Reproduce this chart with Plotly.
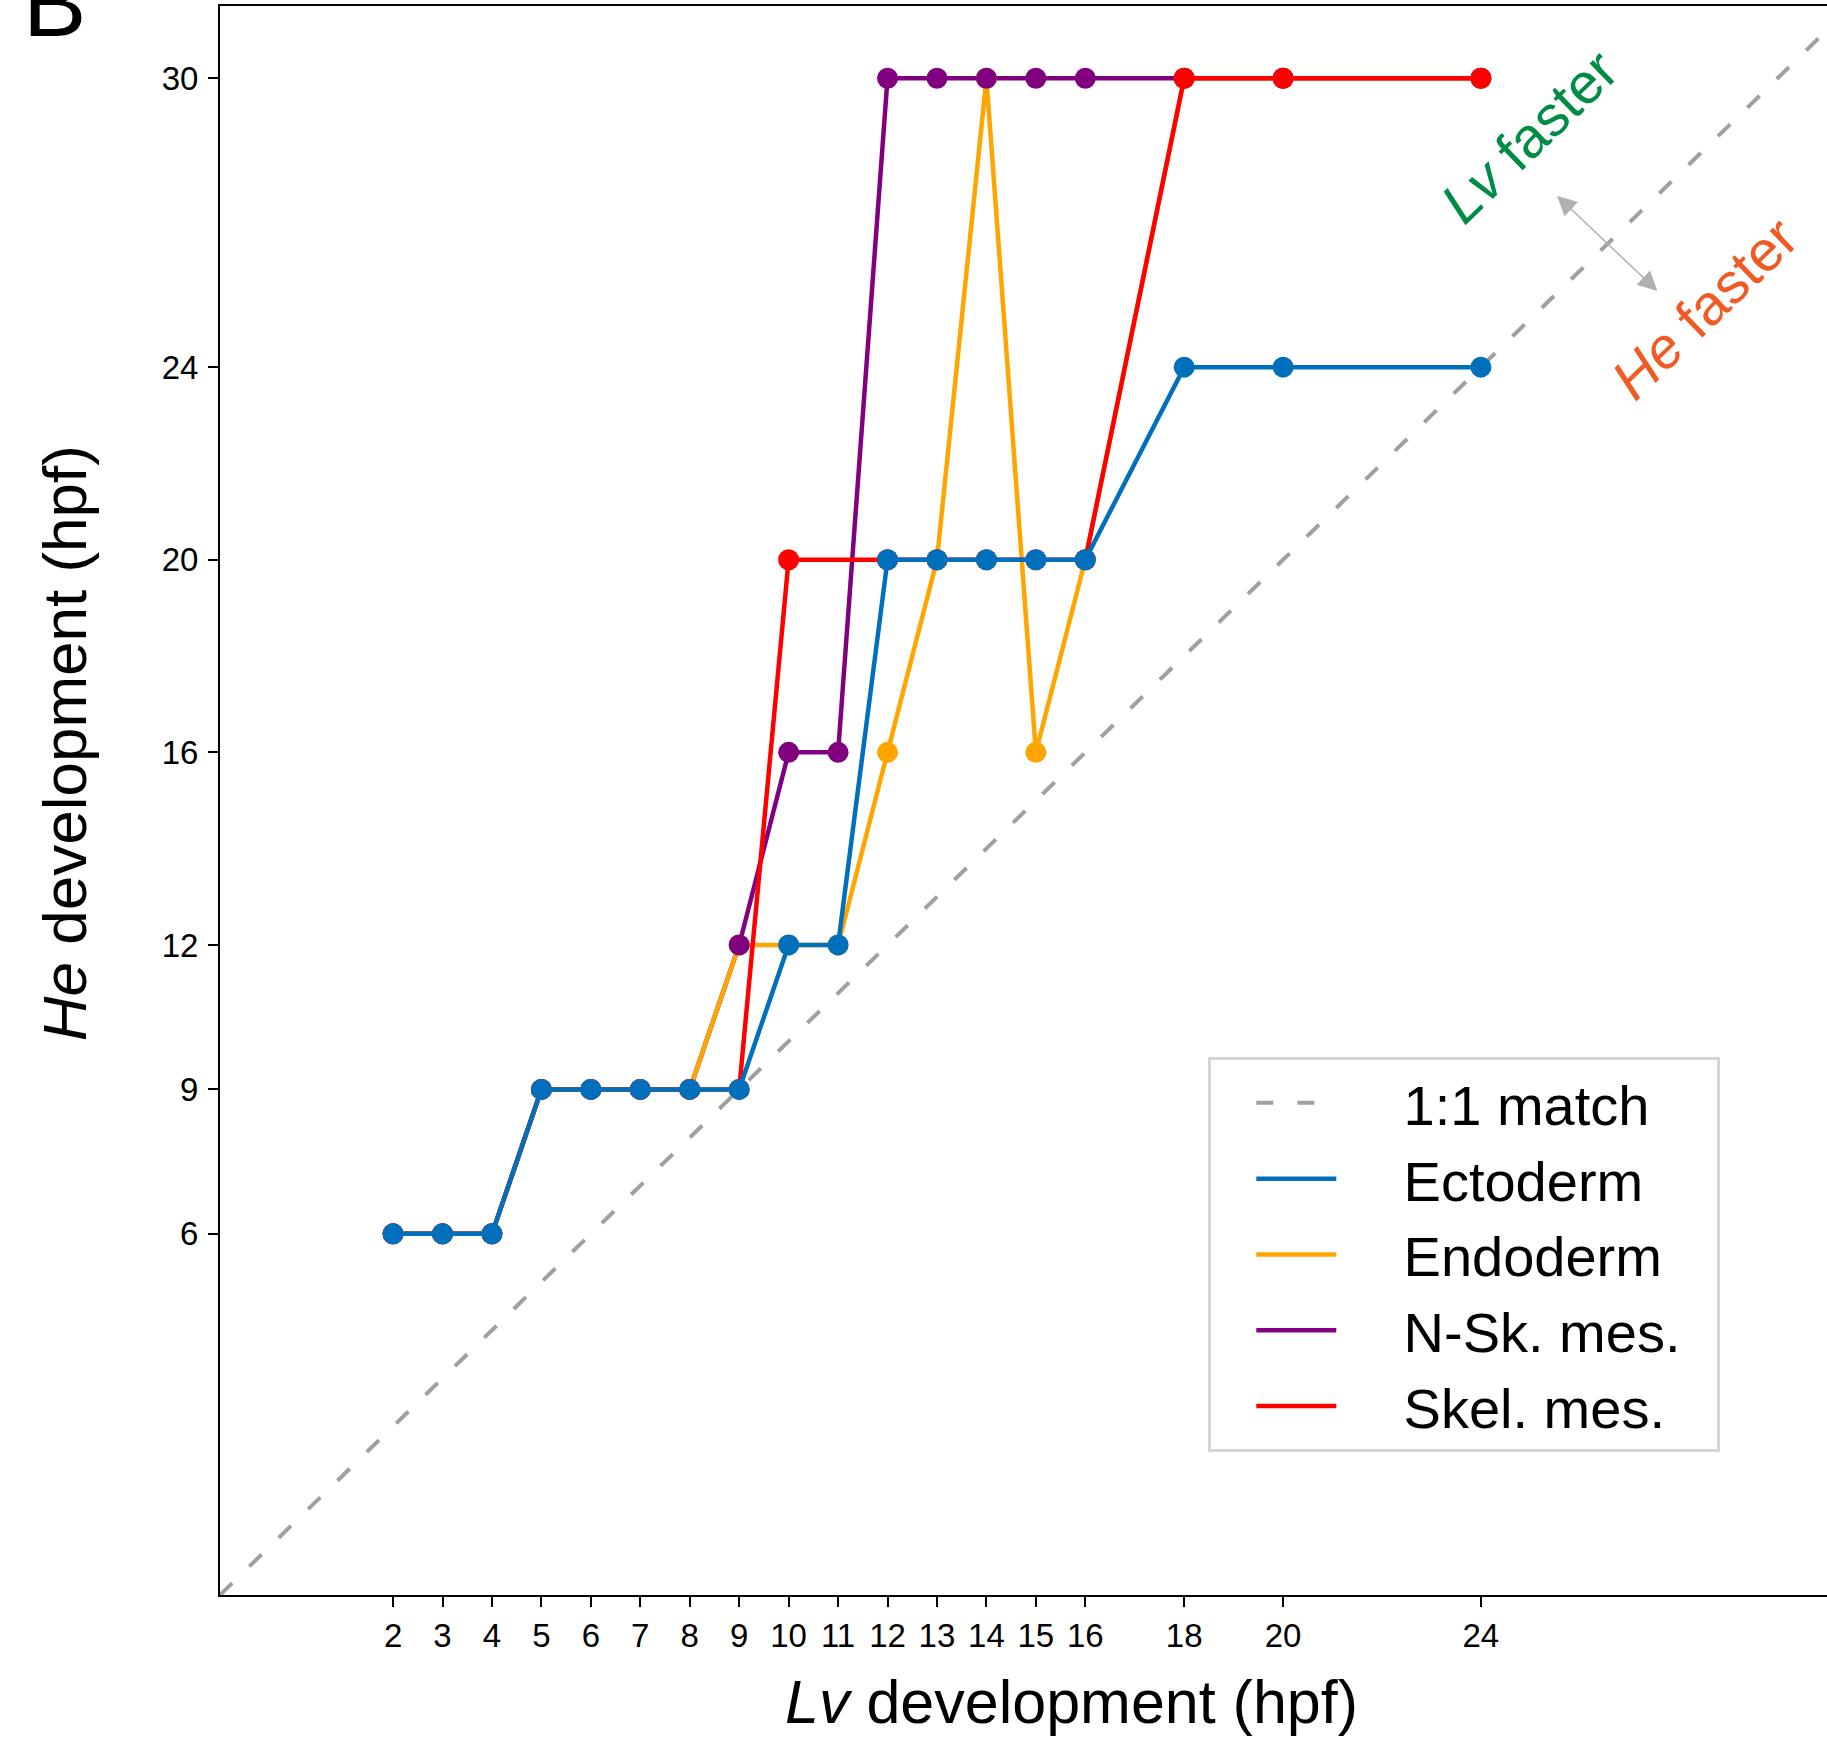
import plotly.graph_objects as go

# ---------------- data ----------------
lv_hpf = [2, 3, 4, 5, 6, 7, 8, 9, 10, 11, 12, 13, 14, 15, 16, 18, 20, 24]
ectoderm = [6, 6, 6, 9, 9, 9, 9, 9, 12, 12, 20, 20, 20, 20, 20, 24, 24, 24]
endoderm = [6, 6, 6, 9, 9, 9, 9, 12, 12, 12, 16, 20, 30, 16, 20, 30, 30, 30]
nsk_mes = [6, 6, 6, 9, 9, 9, 9, 12, 16, 16, 30, 30, 30, 30, 30, 30, 30, 30]
skel_x = [2, 3, 4, 5, 6, 7, 8, 9, 10, 12, 13, 14, 15, 16, 18, 20, 24]
skel_mes = [6, 6, 6, 9, 9, 9, 9, 9, 20, 20, 20, 20, 20, 20, 30, 30, 30]
match_line = [-1.5, 31.5]

x_ticks = lv_hpf
y_ticks = [6, 9, 12, 16, 20, 24, 30]

names = ["1:1 match", "Ectoderm", "Endoderm", "N-Sk. mes.", "Skel. mes."]
colors = {"Ectoderm": "#0070BD", "Endoderm": "#FFA500",
          "N-Sk. mes.": "#800080", "Skel. mes.": "#FF0000"}

FONT = "Liberation Sans, Arial, Helvetica, sans-serif"
LW = 4.5
MS = 21
PAD = "\u00a0" * 4
TAIL = "\u00a0" * 2

fig = go.Figure()

# 1:1 line
fig.add_trace(go.Scatter(x=match_line, y=match_line, mode="lines",
                         line=dict(color="#A0A0A0", width=4, dash="17px,24px"),
                         name=PAD + names[0] + TAIL, legendrank=1, hoverinfo="skip"))


def add_line(x, y, name, rank):
    fig.add_trace(go.Scatter(x=x, y=y, mode="lines", name=PAD + name + TAIL,
                             legendrank=rank, line=dict(color=colors[name], width=LW)))


def add_markers(x, y, name):
    fig.add_trace(go.Scatter(x=x, y=y, mode="markers", name=name, showlegend=False,
                             marker=dict(color=colors[name], size=MS, line=dict(width=0))))


add_line(lv_hpf, nsk_mes, "N-Sk. mes.", 4)
add_line(lv_hpf, endoderm, "Endoderm", 3)
add_markers(lv_hpf, endoderm, "Endoderm")
add_markers(lv_hpf, nsk_mes, "N-Sk. mes.")
add_line(skel_x, skel_mes, "Skel. mes.", 5)
add_markers(skel_x, skel_mes, "Skel. mes.")
add_line(lv_hpf, ectoderm, "Ectoderm", 2)
add_markers(lv_hpf, ectoderm, "Ectoderm")

axis_common = dict(showgrid=False, zeroline=False, showline=True, linecolor="black",
                   linewidth=2, ticks="outside", ticklen=10, tickwidth=2,
                   tickcolor="black", tickfont=dict(family=FONT, size=33, color="black"))

fig.update_xaxes(range=[-1.5, 31.0], tickmode="array", tickvals=x_ticks,
                 ticktext=[str(v) for v in x_ticks], mirror=True, **axis_common)
fig.update_yaxes(range=[-1.5, 31.5], tickmode="array", tickvals=y_ticks,
                 ticktext=[str(v) for v in y_ticks], mirror=False,
                 ticklabelstandoff=3, **axis_common)

annotations = [
    dict(text="<i>Lv</i> development (hpf)", xref="paper", yref="paper", x=0.530, y=0,
         yshift=-107, xanchor="center", yanchor="middle", showarrow=False,
         font=dict(family=FONT, size=61, color="black")),
    dict(text="<i>He</i> development (hpf)", xref="paper", yref="paper", x=0, y=0.536,
         xshift=-156, xanchor="center", yanchor="middle", textangle=-90, showarrow=False,
         font=dict(family=FONT, size=62, color="black")),
    dict(text="<i>Lv</i> faster", xref="x", yref="y", x=24.98, y=28.79,
         xanchor="center", yanchor="middle", textangle=-44, showarrow=False,
         font=dict(family=FONT, size=57, color="#008C45")),
    dict(text="<i>He</i> faster", xref="x", yref="y", x=28.52, y=25.22,
         xanchor="center", yanchor="middle", textangle=-44, showarrow=False,
         font=dict(family=FONT, size=57, color="#F15A24")),
    dict(text="", xref="x", yref="y", axref="x", ayref="y", x=27.57, y=25.58,
         ax=25.51, ay=27.59, showarrow=True, arrowhead=2, startarrowhead=2,
         arrowside="end+start", arrowsize=2.6, startarrowsize=2.6, arrowwidth=1.5,
         arrowcolor="#B0B0B0"),
    dict(text="B", xref="paper", yref="paper", x=-0.1027, y=1.0022,
         xanchor="center", yanchor="middle", showarrow=False,
         font=dict(family=FONT, size=95, color="black")),
]

fig.update_layout(
    width=1827, height=1738,
    margin=dict(l=220, r=0, t=6, b=143, pad=0),
    plot_bgcolor="white", paper_bgcolor="white",
    font=dict(family=FONT, color="black"),
    annotations=annotations,
    showlegend=True,
    legend=dict(x=0.615, y=0.3386, xanchor="left", yanchor="top",
                bgcolor="white", bordercolor="#D5D5D5", borderwidth=3,
                font=dict(family=FONT, size=56, color="black"),
                itemwidth=80, indentation=40, tracegroupgap=0, traceorder="normal"),
)

fig.write_html("out.html", config={"displayModeBar": False},
               post_script="document.body.style.margin='0px';")
